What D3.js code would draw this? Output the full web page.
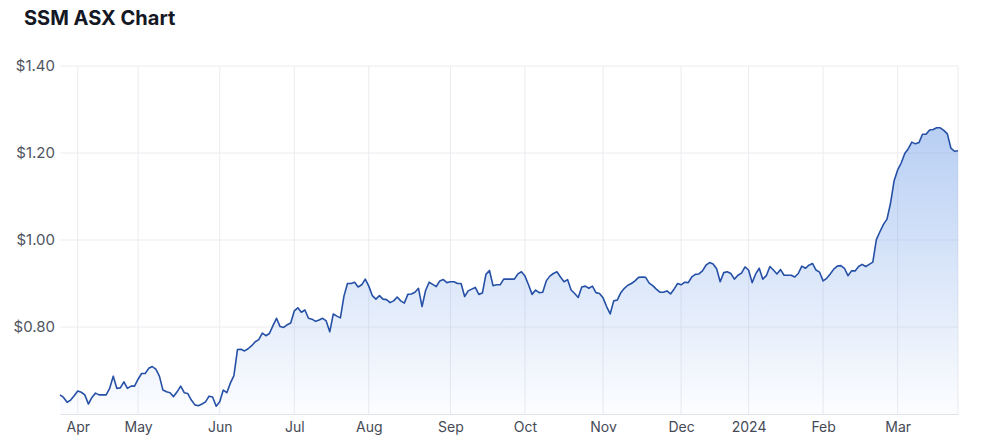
<!DOCTYPE html>
<html>
<head>
<meta charset="utf-8">
<script src="https://cdn.jsdelivr.net/npm/d3@7"></script>
<style>
  body { margin: 0; background: #fff; font-family: Inter, "Noto Sans", sans-serif; }
  #chart { width: 1000px; height: 444px; }
</style>
</head>
<body>
<div id="chart"></div>
<script>
const title = "SSM ASX Chart";

// closing price per trading day, Mar 2023 -> Mar 2024
const prices = [
  0.644, 0.638, 0.627, 0.632, 0.642, 0.653, 0.650, 0.644, 0.623, 0.638,
  0.648, 0.644, 0.644, 0.644, 0.659, 0.687, 0.659, 0.660, 0.674, 0.659,
  0.664, 0.664, 0.680, 0.693, 0.693, 0.705, 0.709, 0.703, 0.687, 0.655,
  0.651, 0.649, 0.640, 0.651, 0.664, 0.649, 0.647, 0.632, 0.621, 0.619,
  0.623, 0.628, 0.641, 0.639, 0.618, 0.628, 0.655, 0.649, 0.671, 0.688,
  0.748, 0.749, 0.745, 0.750, 0.757, 0.766, 0.771, 0.786, 0.780, 0.785,
  0.803, 0.820, 0.801, 0.799, 0.805, 0.809, 0.837, 0.844, 0.834, 0.839,
  0.820, 0.818, 0.813, 0.816, 0.820, 0.814, 0.789, 0.830, 0.825, 0.821,
  0.871, 0.900, 0.900, 0.903, 0.892, 0.897, 0.910, 0.894, 0.872, 0.864,
  0.872, 0.864, 0.863, 0.856, 0.860, 0.869, 0.860, 0.855, 0.875, 0.876,
  0.880, 0.889, 0.847, 0.884, 0.903, 0.898, 0.893, 0.906, 0.909, 0.902,
  0.904, 0.904, 0.900, 0.900, 0.870, 0.883, 0.887, 0.891, 0.875, 0.878,
  0.921, 0.930, 0.895, 0.897, 0.897, 0.910, 0.910, 0.910, 0.910, 0.922,
  0.927, 0.917, 0.897, 0.875, 0.885, 0.879, 0.880, 0.906, 0.917, 0.923,
  0.927, 0.915, 0.904, 0.909, 0.885, 0.877, 0.868, 0.892, 0.894, 0.889,
  0.894, 0.879, 0.877, 0.867, 0.847, 0.830, 0.860, 0.862, 0.879, 0.889,
  0.896, 0.900, 0.906, 0.914, 0.915, 0.914, 0.901, 0.895, 0.887, 0.880,
  0.880, 0.883, 0.876, 0.887, 0.900, 0.897, 0.903, 0.902, 0.915, 0.921,
  0.922, 0.929, 0.942, 0.948, 0.945, 0.934, 0.904, 0.925, 0.927, 0.923,
  0.910, 0.919, 0.924, 0.938, 0.931, 0.902, 0.922, 0.935, 0.910, 0.918,
  0.939, 0.931, 0.922, 0.932, 0.919, 0.919, 0.919, 0.915, 0.923, 0.940,
  0.935, 0.942, 0.946, 0.931, 0.926, 0.906, 0.912, 0.922, 0.933, 0.940,
  0.941, 0.935, 0.918, 0.929, 0.929, 0.939, 0.944, 0.939, 0.944, 0.949,
  1.001, 1.019, 1.036, 1.048, 1.085, 1.136, 1.161, 1.177, 1.199, 1.210,
  1.225, 1.221, 1.224, 1.243, 1.243, 1.253, 1.254, 1.258, 1.258, 1.252,
  1.244, 1.211, 1.204, 1.205
];

// first trading day of each month (index into prices)
const monthLabels = ["Apr", "May", "Jun", "Jul", "Aug", "Sep", "Oct", "Nov", "Dec", "2024", "Feb", "Mar"];
const monthIndex = [5, 22, 45, 66, 87, 110, 131, 153, 175, 194, 215, 236];

const yTicks = [0.8, 1.0, 1.2, 1.4];

const margin = { top: 66, right: 42, bottom: 30, left: 60 };
const width = 1000 - margin.left - margin.right;
const height = 444 - margin.top - margin.bottom;

const svg = d3.select("#chart")
  .append("svg")
  .attr("width", 1000)
  .attr("height", 444);

svg.append("text")
  .attr("x", 24)
  .attr("y", 25)
  .attr("font-size", "20px")
  .attr("font-weight", 700)
  .attr("fill", "#141824")
  .text(title);

const g = svg.append("g")
  .attr("transform", `translate(${margin.left}, ${margin.top})`);

const x = d3.scaleLinear()
  .domain([0, prices.length - 1])
  .range([0, width]);

const y = d3.scaleLinear()
  .domain([0.6, 1.4])
  .range([height, 0]);

// gradient for the area
const grad = svg.append("defs").append("linearGradient")
  .attr("id", "areaFill")
  .attr("gradientUnits", "userSpaceOnUse")
  .attr("x1", 0).attr("x2", 0)
  .attr("y1", y(d3.max(prices))).attr("y2", height);
grad.append("stop").attr("offset", "0%").attr("stop-color", "#6496e6").attr("stop-opacity", 0.46);
grad.append("stop").attr("offset", "100%").attr("stop-color", "#6496e6").attr("stop-opacity", 0.02);

// grid
g.append("g")
  .selectAll("line")
  .data(yTicks)
  .join("line")
  .attr("x1", 0).attr("x2", width)
  .attr("y1", d => y(d)).attr("y2", d => y(d))
  .attr("stroke", "#ececf0");

g.append("g")
  .selectAll("line")
  .data(monthIndex)
  .join("line")
  .attr("x1", d => x(d)).attr("x2", d => x(d))
  .attr("y1", 0).attr("y2", height)
  .attr("stroke", "#ececf0");

g.append("line")
  .attr("x1", width).attr("x2", width)
  .attr("y1", 0).attr("y2", height)
  .attr("stroke", "#ececf0");

// area + line
const area = d3.area()
  .x((d, i) => x(i))
  .y0(height)
  .y1(d => y(d));

const line = d3.line()
  .x((d, i) => x(i))
  .y(d => y(d));

g.append("path")
  .datum(prices)
  .attr("d", area)
  .attr("fill", "url(#areaFill)");

g.append("path")
  .datum(prices)
  .attr("d", line)
  .attr("fill", "none")
  .attr("stroke", "#2550a6")
  .attr("stroke-width", 1.6)
  .attr("stroke-linejoin", "round");

// axes
const xAxis = d3.axisBottom(x)
  .tickValues(monthIndex)
  .tickFormat((d, i) => monthLabels[i])
  .tickSize(0)
  .tickPadding(8);

const xg = g.append("g")
  .attr("transform", `translate(0, ${height})`)
  .call(xAxis);
xg.select(".domain").attr("stroke", "#e2e2e8");
xg.selectAll("text")
  .attr("font-size", "14px")
  .attr("font-family", "Inter, sans-serif")
  .attr("fill", "#454a55");

const yAxis = d3.axisLeft(y)
  .tickValues(yTicks)
  .tickFormat(d => "$" + d.toFixed(2))
  .tickSize(0)
  .tickPadding(5);

const yg = g.append("g").call(yAxis);
yg.select(".domain").remove();
yg.selectAll("text")
  .attr("font-size", "15px")
  .attr("font-family", "Inter, sans-serif")
  .attr("fill", "#50555f");
</script>
</body>
</html>
